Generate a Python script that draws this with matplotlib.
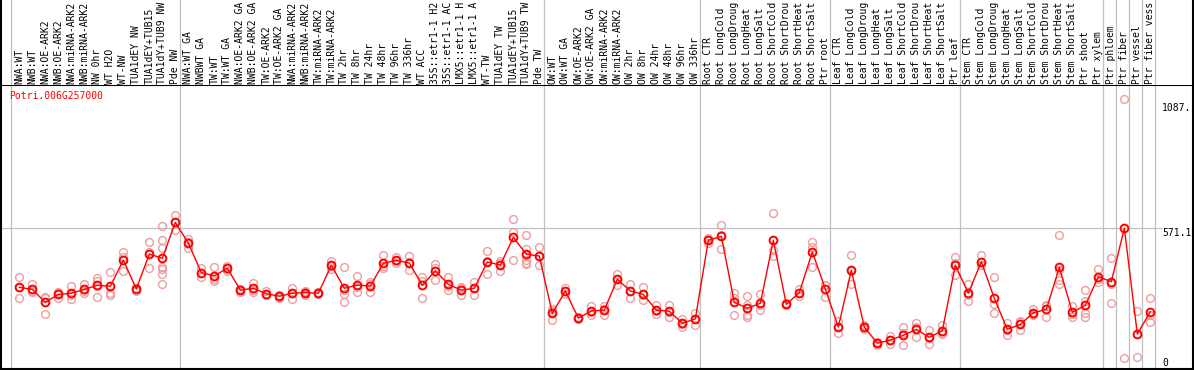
import matplotlib
matplotlib.use("Agg")
import matplotlib.pyplot as plt
from matplotlib.transforms import offset_copy

# ---------------- data ----------------
gene_id = "Potri.006G257000"

# sample labels as displayed (long names are shown cut to 14 characters)
labels_g1 = ["NWA:WT", "NWB:WT", "NWA:OE-ARK2", "NWB:OE-ARK2", "NWA:miRNA-ARK2",
             "NWB:miRNA-ARK2", "NW 0hr", "WT H2O", "WT-NW", "TUA1dEY NW",
             "TUA1dEY+TUB15", "TUA1dY+TUB9 NW", "Pde NW"]
labels_g2 = ["NWA:WT GA", "NWBWT GA", "TW:WT", "TW:WT GA", "NWA:OE-ARK2 GA",
             "NWB:OE-ARK2 GA", "TW:OE-ARK2", "TW:OE-ARK2 GA", "NWA:miRNA-ARK2",
             "NWB:miRNA-ARK2", "TW:miRNA-ARK2", "TW:miRNA-ARK2", "TW 2hr",
             "TW 8hr", "TW 24hr", "TW 48hr", "TW 96hr", "TW 336hr", "WT ACC",
             "35S::etr1-1 H2", "35S::etr1-1 AC", "LMX5::etr1-1 H",
             "LMX5::etr1-1 A", "WT-TW", "TUA1dEY TW", "TUA1dEY+TUB15",
             "TUA1dY+TUB9 TW", "Pde TW"]
labels_g3 = ["OW:WT", "OW:WT GA", "OW:OE-ARK2", "OW:OE-ARK2 GA", "OW:miRNA-ARK2",
             "OW:miRNA-ARK2", "OW 2hr", "OW 8hr", "OW 24hr", "OW 48hr",
             "OW 96hr", "OW 336hr"]
labels_g4 = ["Root CTR", "Root LongCold", "Root LongDroug", "Root LongHeat",
             "Root LongSalt", "Root ShortCold", "Root ShortDrou",
             "Root ShortHeat", "Root ShortSalt", "Ptr root"]
labels_g5 = ["Leaf CTR", "Leaf LongCold", "Leaf LongDroug", "Leaf LongHeat",
             "Leaf LongSalt", "Leaf ShortCold", "Leaf ShortDrou",
             "Leaf ShortHeat", "Leaf ShortSalt", "Ptr leaf"]
labels_g6 = ["Stem CTR", "Stem LongCold", "Stem LongDroug", "Stem LongHeat",
             "Stem LongSalt", "Stem ShortCold", "Stem ShortDrou",
             "Stem ShortHeat", "Stem ShortSalt", "Ptr shoot", "Ptr xylem"]
labels_g7 = ["Ptr phloem", "Ptr fiber", "Ptr vessel", "Ptr fiber vess"]

means_g1 = [311, 302, 245, 280, 285, 302, 320, 316, 431, 304, 458, 439, 597]
means_g2 = [506, 376, 362, 395, 299, 307, 283, 272, 285, 288, 285, 408, 307, 321,
            317, 417, 430, 418, 320, 384, 324, 299, 307, 423, 409, 531, 457, 449]
means_g3 = [196, 295, 176, 207, 211, 347, 295, 280, 211, 206, 153, 172]
means_g4 = [518, 536, 245, 219, 241, 518, 236, 288, 467, 304]
means_g5 = [136, 387, 136, 65, 79, 100, 126, 91, 120, 409]
means_g6 = [285, 424, 263, 126, 148, 199, 214, 399, 201, 232, 358]
means_g7 = [336, 571.1, 105, 204]

reps_g1 = [[358, 263, 311], [326, 292, 295], [270, 192, 263], [292, 263, 286],
           [316, 260, 279], [326, 288, 294], [354, 340, 269, 317], [377, 288, 277],
           [467, 383, 445], [295, 310, 307], [509, 398, 467],
           [581, 520, 486, 402, 391, 369, 324], [630, 564, 599]]
reps_g2 = [[525, 483, 511], [395, 358, 374], [399, 340, 348], [406, 384, 394],
           [302, 292, 304], [329, 291, 301], [295, 277, 277], [277, 263, 274],
           [310, 260, 285], [277, 295, 291], [289, 280, 285], [427, 391, 406],
           [399, 280, 247, 301], [362, 289, 313], [333, 292, 326], [452, 395, 404],
           [445, 417, 428], [448, 386, 421], [357, 264, 339], [414, 343, 396],
           [355, 301, 317], [310, 277, 311], [336, 276, 308], [471, 369, 428],
           [427, 384, 417], [611, 553, 430], [542, 480, 454, 431, 417, 416],
           [489, 409, 449]]
reps_g3 = [[214, 167, 208], [307, 295, 283], [182, 176, 170], [229, 189, 203],
           [230, 189, 214], [369, 323, 348], [326, 263, 296], [311, 254, 276],
           [233, 195, 206], [233, 182, 201], [170, 138, 150], [197, 145, 173]]
reps_g4 = [[527, 508, 520], [586, 479, 543], [285, 188, 263], [272, 189, 182, 232],
           [280, 210, 232], [637, 476, 450], [241, 232, 236], [304, 288, 272],
           [511, 490, 399], [321, 270, 320]]
reps_g5 = [[163, 109, 138], [452, 326, 384], [144, 136, 129], [72, 65, 57],
           [97, 60, 81], [135, 56, 109], [153, 91, 135], [123, 60, 89],
           [145, 109, 107], [443, 365, 420]]
reps_g6 = [[326, 252, 276], [454, 409, 409], [355, 197, 236], [155, 101, 122],
           [164, 123, 157], [214, 189, 195], [233, 182, 228], [540, 343, 326, 387],
           [229, 179, 195], [299, 197, 182, 250], [392, 336, 347]]
reps_g7 = [[439, 326, 243], [1142, 0], [207, 3], [263, 160, 189]]

scale_labels = ["1087.", "571.1", "0"]
scale_values = [1087, 571.1, 0]

# ---------------- assemble ----------------
groups_labels = [labels_g1, labels_g2, labels_g3, labels_g4, labels_g5, labels_g6,
                 labels_g7]
labels = sum(groups_labels, [])
means = means_g1 + means_g2 + means_g3 + means_g4 + means_g5 + means_g6 + means_g7
reps = reps_g1 + reps_g2 + reps_g3 + reps_g4 + reps_g5 + reps_g6 + reps_g7
n = len(labels)
xs = list(range(n))

# group boundaries (start index of each group, last columns are separate)
bounds = [0]
for g in groups_labels[:-1]:
    bounds.append(bounds[-1] + len(g))
bounds += [bounds[-1] + k for k in range(1, len(labels_g7) + 1)]

# ---------------- figure ----------------
W, H = 1194, 370
fig = plt.figure(figsize=(W / 100, H / 100), dpi=100)
L, R, T, B = 1, 1193, 85, 369
ax = fig.add_axes([L / W, 1 - B / H, (R - L) / W, (B - T) / H])
hx = fig.add_axes([L / W, 1 - T / H, (R - L) / W, T / H], sharex=ax)

xmin = -1.41
xmax = xmin + (R - L) / 13.0
ax.set_xlim(xmin, xmax)
ax.set_ylim(-48.4, 1202)
hx.set_ylim(0, T)

mono = "DejaVu Sans Mono"
fs = 7.0
grid_c = "#c0c0c0"

for b in bounds:
    ax.axvline(b - 0.66, color=grid_c, lw=0.9, zorder=1)
    hx.axvline(b - 0.66, color=grid_c, lw=0.9, zorder=1)

label_x = xmax - (R - 1162) / 13.0
ax.hlines(scale_values[1], xmin, label_x, color=grid_c, lw=0.9, zorder=1)

# replicates
for i, r in zip(xs, reps):
    ax.plot([i] * len(r), r, "o", mfc="none", mec="#ee9f9f", ms=5.6, mew=1.0,
            zorder=2)
# means
ax.plot(xs, means, "-", color="red", lw=1.0, zorder=3)
ax.plot(xs, means, "o", mfc="none", mec="red", ms=5.6, mew=1.4, zorder=4)

# header labels
for i, lab in zip(xs, labels):
    hx.text(i, 1.5, lab, rotation=90, ha="center", va="bottom", family=mono,
            fontsize=fs, color="black")

# gene id
ax.text(0.007, 0.962, gene_id, transform=ax.transAxes, ha="left", va="center",
        family=mono, fontsize=fs, color="red")

# scale labels
label_offsets = [8, 0, 0]
for v, s, off in zip(scale_values, scale_labels, label_offsets):
    tr = offset_copy(ax.transData, fig=fig, x=0, y=off * 0.72, units="points")
    ax.text(label_x, v, s, transform=tr, ha="left", va="top", family=mono,
            fontsize=fs, color="black")

for a in (ax, hx):
    a.set_xticks([])
    a.set_yticks([])
for sp in ax.spines.values():
    sp.set_linewidth(1.5)
    sp.set_color("black")
for k, sp in hx.spines.items():
    sp.set_visible(k in ("left", "right"))
    sp.set_linewidth(1.5)

fig.savefig("out.png", dpi=100)
